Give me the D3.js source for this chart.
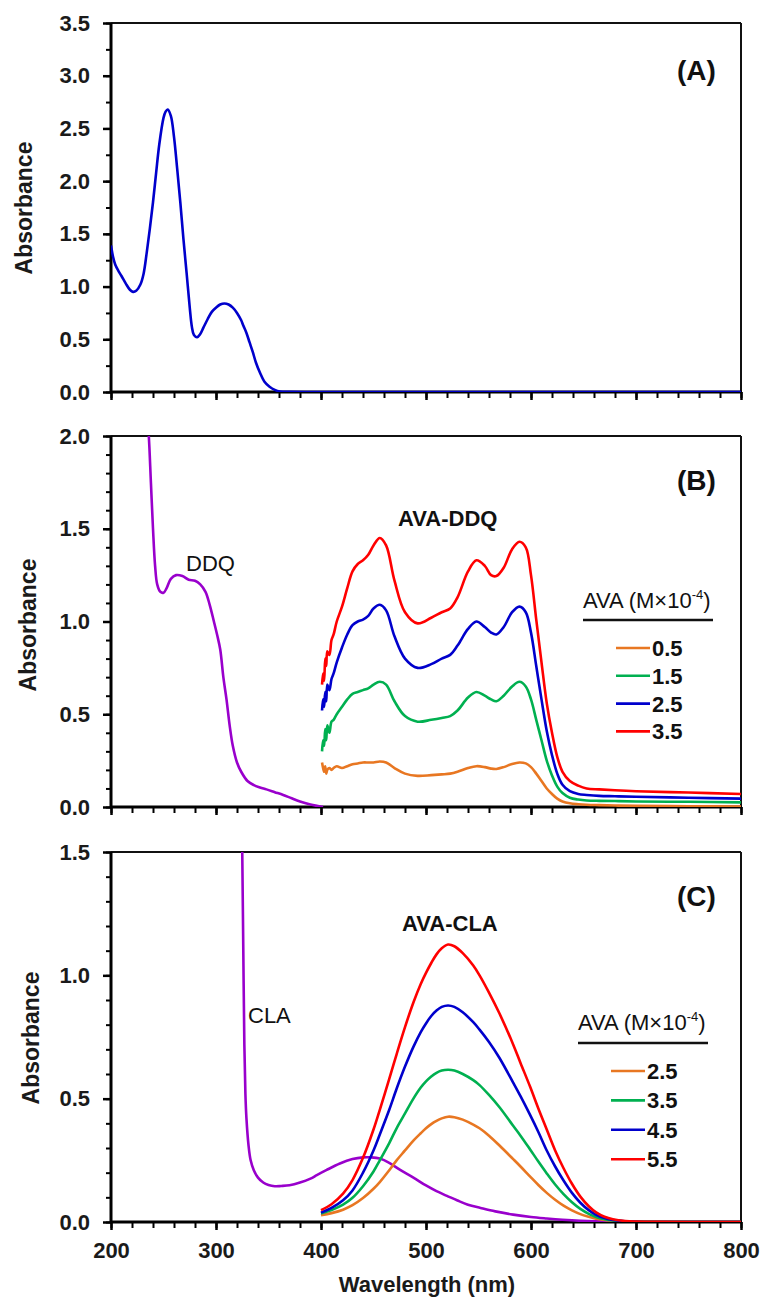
<!DOCTYPE html>
<html>
<head>
<script src="https://d3js.org/d3.v7.min.js"></script>
<style>
  body { margin: 0; background: #fff; }
  svg { font-family: "Liberation Sans", Arial, sans-serif; }
</style>
</head>
<body>
<div id="chart"></div>
<script>
// ---------- data ----------
// panel A: AVA alone
const wlA  = [200,202,204,207,210,214,218,221,224,228,231,234,237,240,243,246,250,252,254,257,260,263,266,269,272,275,277,279,282,285,288,292,296,300,304,308,312,316,320,324,326,329,332,335,338,342,346,351,356,361,370,400,800];
const absA = [1.39,1.28,1.21,1.15,1.10,1.03,0.97,0.95,0.96,1.02,1.12,1.32,1.55,1.80,2.08,2.35,2.60,2.66,2.68,2.62,2.42,2.12,1.80,1.45,1.13,0.80,0.62,0.54,0.52,0.55,0.61,0.69,0.76,0.80,0.83,0.84,0.83,0.80,0.75,0.68,0.63,0.56,0.47,0.38,0.28,0.18,0.10,0.05,0.02,0.005,0.001,0,0];

// panel B: DDQ alone
const wlDDQ  = [234,236,238,240,242,244,247,250,253,257,262,268,274,280,285,290,294,298,301,304,307,310,313,316,320,324,330,336,342,348,356,364,372,380,390,402];
const absDDQ = [2.15,2.0,1.75,1.5,1.3,1.2,1.16,1.155,1.18,1.23,1.25,1.245,1.225,1.22,1.2,1.16,1.09,1.0,0.93,0.85,0.70,0.58,0.44,0.33,0.24,0.19,0.14,0.118,0.105,0.095,0.08,0.065,0.047,0.03,0.013,0.0];

// panel B: AVA-DDQ complex
const wlAvaDdq = [401,402,403,404,405,406,408,410,412,415,420,425,430,435,440,445,450,456,462,470,480,492,505,515,523,530,540,548,556,562,567,574,582,589,595,600,605,610,615,620,625,630,637,645,653,665,680,700,750,800];
const ddq05 = [0.24,0.21,0.19,0.22,0.18,0.20,0.21,0.20,0.21,0.22,0.21,0.22,0.23,0.235,0.24,0.24,0.24,0.245,0.24,0.21,0.18,0.168,0.172,0.176,0.18,0.19,0.21,0.22,0.215,0.207,0.205,0.215,0.232,0.24,0.235,0.215,0.18,0.14,0.10,0.07,0.045,0.03,0.02,0.015,0.012,0.01,0.008,0.006,0.004,0.003];
const ddq15 = [0.30,0.36,0.33,0.42,0.36,0.44,0.40,0.46,0.47,0.50,0.54,0.58,0.61,0.62,0.63,0.64,0.66,0.675,0.66,0.57,0.49,0.46,0.47,0.48,0.49,0.52,0.59,0.62,0.60,0.58,0.57,0.60,0.65,0.675,0.65,0.58,0.47,0.36,0.25,0.17,0.11,0.075,0.05,0.04,0.035,0.033,0.032,0.03,0.028,0.025];
const ddq25 = [0.52,0.58,0.54,0.62,0.57,0.66,0.63,0.69,0.72,0.78,0.86,0.93,0.98,1.00,1.01,1.03,1.07,1.09,1.06,0.92,0.80,0.75,0.77,0.80,0.82,0.87,0.96,1.00,0.97,0.94,0.93,0.97,1.05,1.08,1.05,0.94,0.76,0.58,0.41,0.28,0.18,0.12,0.085,0.07,0.065,0.06,0.058,0.055,0.05,0.045];
const ddq35 = [0.66,0.72,0.68,0.80,0.76,0.84,0.82,0.90,0.93,1.00,1.08,1.18,1.27,1.31,1.33,1.36,1.41,1.45,1.41,1.22,1.05,0.99,1.02,1.05,1.07,1.13,1.27,1.33,1.30,1.25,1.245,1.29,1.39,1.43,1.40,1.25,1.01,0.78,0.56,0.40,0.27,0.19,0.14,0.115,0.10,0.095,0.09,0.085,0.078,0.07];
const ddqConc = ["0.5", "1.5", "2.5", "3.5"];

// panel C: CLA alone
const wlCLA  = [324.6,325,326,327,328,329,331,333,336,340,345,350,356,362,370,380,390,396,405,418,430,440,448,456,465,475,488,500,510,520,530,540,552,566,583,600,615,630,647,665,680,700];
const absCLA = [1.6,1.5,1.1,0.72,0.52,0.42,0.31,0.25,0.21,0.18,0.16,0.15,0.145,0.146,0.149,0.16,0.176,0.19,0.21,0.237,0.255,0.262,0.262,0.257,0.24,0.212,0.18,0.148,0.125,0.106,0.087,0.07,0.057,0.043,0.03,0.02,0.014,0.009,0.005,0.003,0.002,0.001];

// panel C: AVA-CLA complex
const wlAvaCla = [400,410,421,430,440,450,456,465,472,480,488,495,500,505,510,515,521,527,535,545,551,560,570,583,590,599,607,615,623,631,639,647,655,662,670,678,690,700,720,750,800];
const cla25 = [0.027,0.036,0.05,0.068,0.097,0.135,0.162,0.21,0.25,0.29,0.33,0.36,0.38,0.397,0.41,0.42,0.427,0.425,0.415,0.395,0.38,0.35,0.31,0.255,0.225,0.185,0.15,0.118,0.09,0.066,0.047,0.032,0.021,0.013,0.008,0.004,0.002,0.001,0,0,0];
const cla35 = [0.034,0.048,0.07,0.098,0.145,0.205,0.25,0.32,0.38,0.44,0.50,0.545,0.57,0.59,0.605,0.614,0.617,0.614,0.60,0.575,0.555,0.515,0.465,0.39,0.35,0.295,0.245,0.197,0.152,0.113,0.08,0.053,0.033,0.02,0.011,0.006,0.002,0.001,0,0,0];
const cla45 = [0.038,0.057,0.088,0.128,0.20,0.29,0.355,0.455,0.54,0.63,0.71,0.77,0.805,0.835,0.857,0.872,0.878,0.872,0.85,0.81,0.78,0.73,0.665,0.565,0.51,0.435,0.365,0.29,0.225,0.168,0.118,0.078,0.048,0.029,0.016,0.008,0.003,0.001,0,0,0];
const cla55 = [0.048,0.072,0.115,0.17,0.26,0.375,0.455,0.58,0.68,0.79,0.89,0.965,1.01,1.05,1.085,1.11,1.125,1.118,1.09,1.04,1.0,0.93,0.845,0.72,0.645,0.55,0.46,0.375,0.29,0.218,0.155,0.103,0.064,0.039,0.021,0.011,0.004,0.002,0.001,0,0];
const claConc = ["2.5", "3.5", "4.5", "5.5"];

const seriesColors = ["#E87722", "#00B050", "#0000CC", "#FF0000"];
const purple = "#9900CC";

// ---------- layout ----------
const W = 764, H = 1300;
const xLeft = 111, xRight = 741;
const font = 22;

const svg = d3.select("#chart").append("svg")
  .attr("width", W).attr("height", H);

const x = d3.scaleLinear().domain([200, 800]).range([xLeft, xRight]);

function panel(id, top, bottom, ymax, majorStep, minorStep, showXLabels) {
  const y = d3.scaleLinear().domain([0, ymax]).range([bottom, top]);
  const g = svg.append("g");

  // clip to plot area
  svg.append("clipPath").attr("id", "clip" + id)
    .append("rect").attr("x", xLeft).attr("y", top)
    .attr("width", xRight - xLeft).attr("height", bottom - top);

  // minor y ticks
  g.append("g").attr("transform", `translate(${xLeft},0)`)
    .call(d3.axisLeft(y).tickValues(d3.range(0, ymax + 1e-9, minorStep)).tickSize(5).tickFormat(""))
    .call(a => a.select(".domain").remove())
    .selectAll("line").attr("stroke", "#000").attr("stroke-width", 2);
  // major y ticks
  g.append("g").attr("transform", `translate(${xLeft},0)`)
    .call(d3.axisLeft(y).tickValues(d3.range(0, ymax + 1e-9, majorStep)).tickSize(8).tickPadding(13).tickFormat(d3.format(".1f")))
    .call(a => a.select(".domain").remove())
    .call(a => a.selectAll("line").attr("stroke", "#000").attr("stroke-width", 2.5))
    .call(a => a.selectAll("text").attr("font-size", font).attr("font-weight", "bold")
      .attr("fill", "#1a1a1a").attr("font-family", "Liberation Sans, Arial, sans-serif"));

  // x ticks (minor every 20, major every 100)
  g.append("g").attr("transform", `translate(0,${bottom})`)
    .call(d3.axisBottom(x).tickValues(d3.range(200, 801, 20)).tickSize(6).tickFormat(""))
    .call(a => a.select(".domain").remove())
    .selectAll("line").attr("stroke", "#000").attr("stroke-width", 2);
  g.append("g").attr("transform", `translate(0,${bottom})`)
    .call(d3.axisBottom(x).tickValues(d3.range(200, 801, 100)).tickSize(8).tickPadding(12)
      .tickFormat(showXLabels ? d3.format("d") : ""))
    .call(a => a.select(".domain").remove())
    .call(a => a.selectAll("line").attr("stroke", "#000").attr("stroke-width", 2.5))
    .call(a => a.selectAll("text").attr("font-size", font).attr("font-weight", "bold")
      .attr("fill", "#1a1a1a").attr("font-family", "Liberation Sans, Arial, sans-serif"));

  // frame
  g.append("line").attr("x1", xLeft).attr("x2", xRight).attr("y1", top).attr("y2", top)
    .attr("stroke", "#111").attr("stroke-width", 2);
  g.append("line").attr("x1", xRight).attr("x2", xRight).attr("y1", top).attr("y2", bottom)
    .attr("stroke", "#111").attr("stroke-width", 2);
  g.append("line").attr("x1", xLeft).attr("x2", xLeft).attr("y1", top).attr("y2", bottom + 1)
    .attr("stroke", "#000").attr("stroke-width", 3);
  g.append("line").attr("x1", xLeft - 1).attr("x2", xRight + 1).attr("y1", bottom).attr("y2", bottom)
    .attr("stroke", "#000").attr("stroke-width", 3);

  return { y, top, bottom, clip: "url(#clip" + id + ")" };
}

function drawLine(p, wl, vals, color) {
  const pts = wl.map((w, i) => [w, vals[i]]);
  const line = d3.line().x(d => x(d[0])).y(d => p.y(d[1])).curve(d3.curveCatmullRom.alpha(0.5));
  svg.append("path").datum(pts)
    .attr("clip-path", p.clip)
    .attr("fill", "none").attr("stroke", color).attr("stroke-width", 2.6)
    .attr("stroke-linejoin", "round")
    .attr("d", line);
}

function ylabel(cx, cy) {
  svg.append("text")
    .attr("transform", `translate(${cx},${cy}) rotate(-90)`)
    .attr("text-anchor", "middle").attr("dy", "0.35em")
    .attr("font-size", 23).attr("font-weight", "bold").attr("fill", "#1a1a1a")
    .text("Absorbance");
}

function label(tx, ty, txt, bold, size) {
  svg.append("text").attr("x", tx).attr("y", ty)
    .attr("font-size", size || font).attr("font-weight", bold ? "bold" : "normal")
    .attr("fill", "#111").text(txt);
}

function legend(lx, ty, lineY, rows, colors, rowStep) {
  const t = svg.append("text").attr("x", lx).attr("y", ty)
    .attr("font-size", font).attr("fill", "#111");
  t.append("tspan").text("AVA (M\u00d710");
  t.append("tspan").attr("font-size", 13).attr("dy", -9).text("-4");
  t.append("tspan").attr("dy", 9).text(")");
  svg.append("line").attr("x1", lx).attr("x2", lx + 130).attr("y1", lineY).attr("y2", lineY)
    .attr("stroke", "#111").attr("stroke-width", 2.5);
  rows.forEach((r, i) => {
    const ry = lineY + 28 + i * rowStep;
    svg.append("line").attr("x1", lx + 33).attr("x2", lx + 67).attr("y1", ry).attr("y2", ry)
      .attr("stroke", colors[i]).attr("stroke-width", 2.6);
    svg.append("text").attr("x", lx + 69).attr("y", ry).attr("dy", "0.36em")
      .attr("font-size", font).attr("font-weight", "bold").attr("fill", "#111").text(r);
  });
}

// ---------- panel A ----------
const pA = panel("A", 23, 392, 3.5, 0.5, 0.25, false);
drawLine(pA, wlA, absA, "#0000CC");
ylabel(24, 208);
label(677, 80, "(A)", true, 28);

// ---------- panel B ----------
const pB = panel("B", 436, 807, 2.0, 0.5, 0.1, false);
drawLine(pB, wlDDQ, absDDQ, purple);
[ddq05, ddq15, ddq25, ddq35].forEach((s, i) => drawLine(pB, wlAvaDdq, s, seriesColors[i]));
ylabel(28, 625);
label(677, 490, "(B)", true, 28);
label(398, 526, "AVA-DDQ", true, 22);
label(186, 571, "DDQ", false, 22);
legend(583, 608, 620, ddqConc, seriesColors, 27.8);

// ---------- panel C ----------
const pC = panel("C", 852, 1222, 1.5, 0.5, 0.1, true);
drawLine(pC, wlCLA, absCLA, purple);
[cla25, cla35, cla45, cla55].forEach((s, i) => drawLine(pC, wlAvaCla, s, seriesColors[i]));
ylabel(31, 1038);
label(677, 906, "(C)", true, 28);
label(402, 931, "AVA-CLA", true, 22);
label(248, 1023, "CLA", false, 22);
legend(578, 1030, 1043, claConc, seriesColors, 29.4);

// x axis title
svg.append("text").attr("x", (xLeft + xRight) / 2 + 1).attr("y", 1292)
  .attr("text-anchor", "middle").attr("font-size", font).attr("font-weight", "bold")
  .attr("fill", "#1a1a1a").text("Wavelength (nm)");
</script>
</body>
</html>
